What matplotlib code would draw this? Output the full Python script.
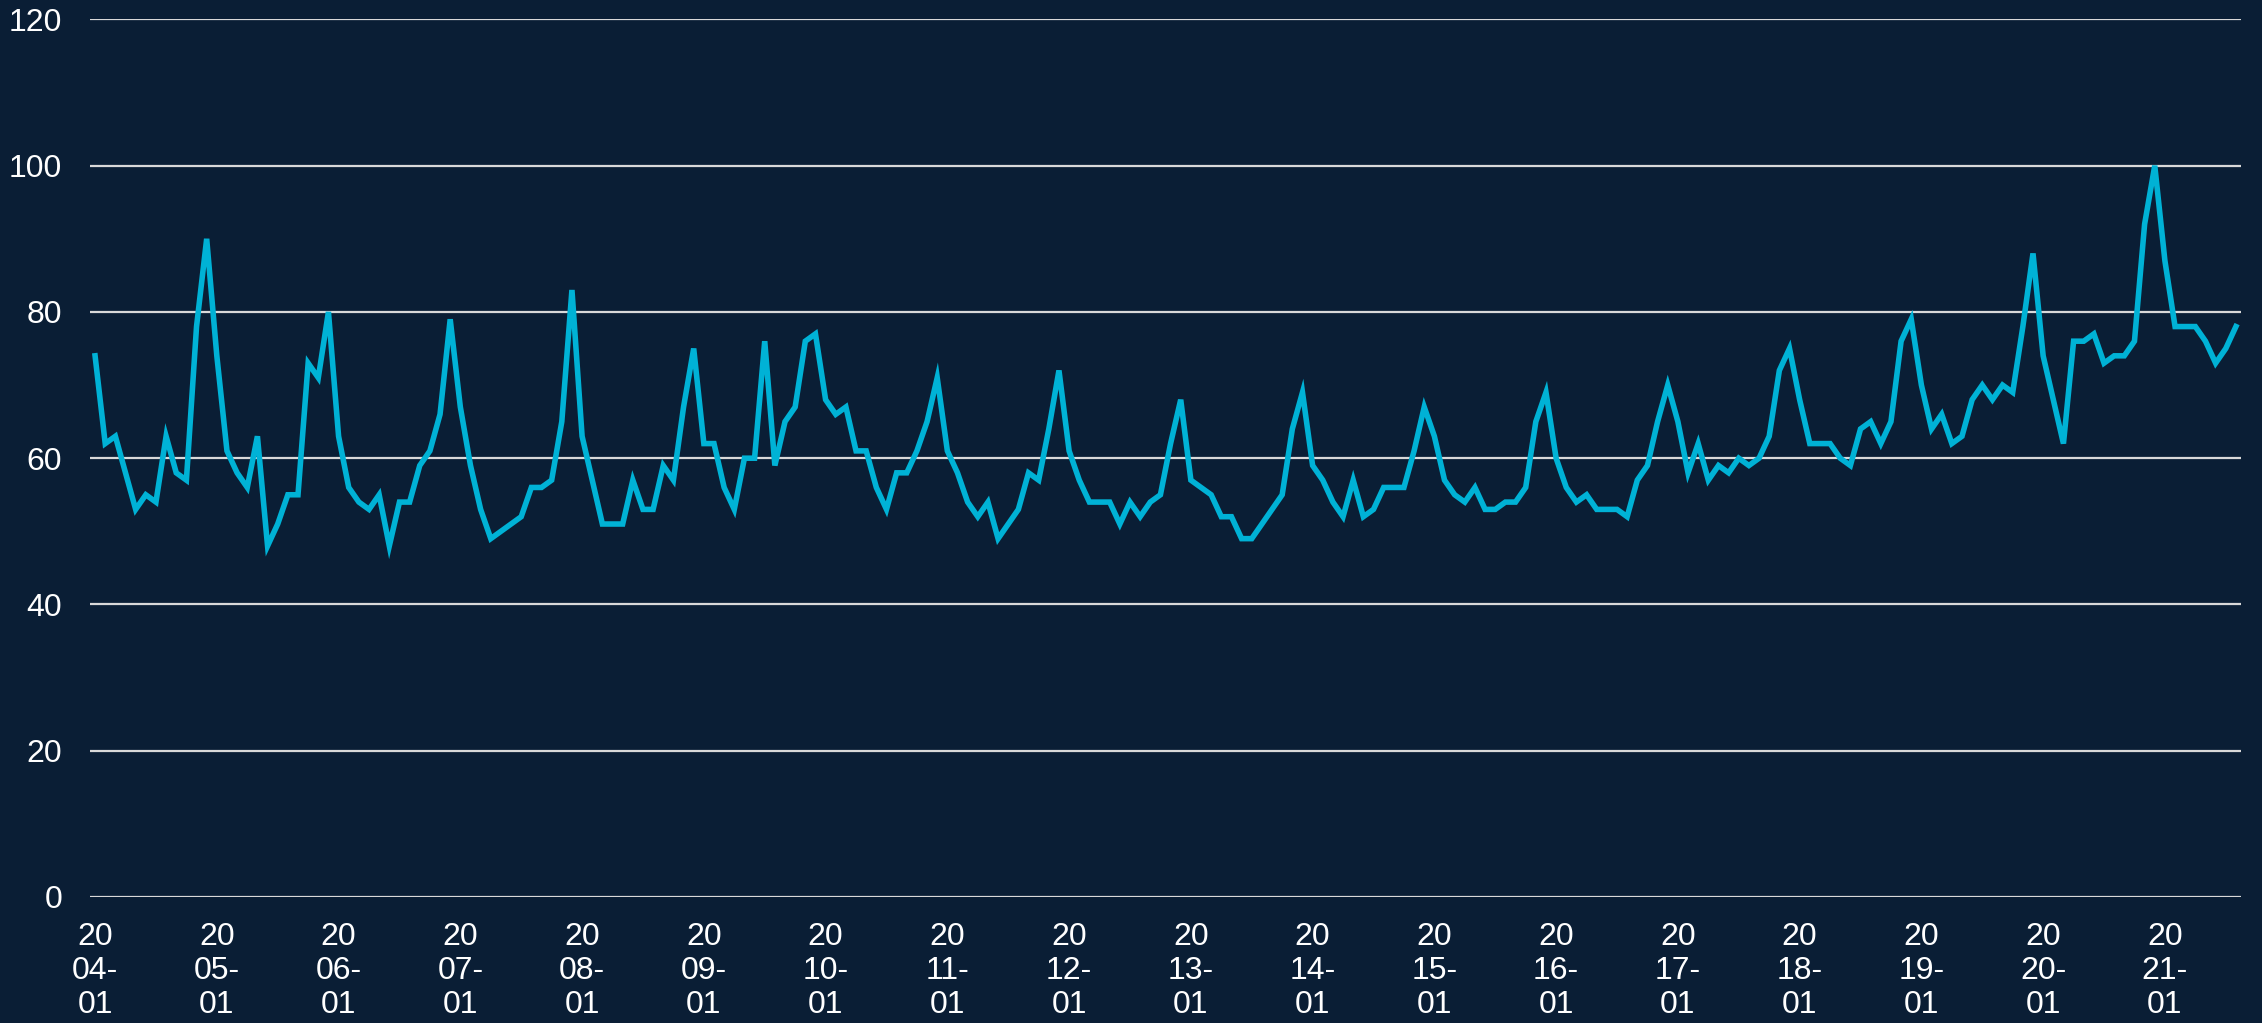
import matplotlib
matplotlib.use("Agg")
import matplotlib.pyplot as plt
import pandas as pd

# monthly index, 2004-01 .. 2021-08
values = [
    74, 62, 63, 58, 53, 55, 54, 63, 58, 57, 78, 90,
    74, 61, 58, 56, 63, 48, 51, 55, 55, 73, 71, 80,
    63, 56, 54, 53, 55, 48, 54, 54, 59, 61, 66, 79,
    67, 59, 53, 49, 50, 51, 52, 56, 56, 57, 65, 83,
    63, 57, 51, 51, 51, 57, 53, 53, 59, 57, 67, 75,
    62, 62, 56, 53, 60, 60, 76, 59, 65, 67, 76, 77,
    68, 66, 67, 61, 61, 56, 53, 58, 58, 61, 65, 71,
    61, 58, 54, 52, 54, 49, 51, 53, 58, 57, 64, 72,
    61, 57, 54, 54, 54, 51, 54, 52, 54, 55, 62, 68,
    57, 56, 55, 52, 52, 49, 49, 51, 53, 55, 64, 69,
    59, 57, 54, 52, 57, 52, 53, 56, 56, 56, 61, 67,
    63, 57, 55, 54, 56, 53, 53, 54, 54, 56, 65, 69,
    60, 56, 54, 55, 53, 53, 53, 52, 57, 59, 65, 70,
    65, 58, 62, 57, 59, 58, 60, 59, 60, 63, 72, 75,
    68, 62, 62, 62, 60, 59, 64, 65, 62, 65, 76, 79,
    70, 64, 66, 62, 63, 68, 70, 68, 70, 69, 78, 88,
    74, 68, 62, 76, 76, 77, 73, 74, 74, 76, 92, 100,
    87, 78, 78, 78, 76, 73, 75, 78,
]
months = pd.period_range("2004-01", periods=len(values), freq="M")
tick_years = list(range(2004, 2022))
y_ticks = [0, 20, 40, 60, 80, 100, 120]

bg = "#0a1e35"
line_color = "#00b2d6"
grid_color = "#d9d9d9"

plt.rcParams["font.family"] = ["Liberation Sans", "DejaVu Sans"]

fig = plt.figure(figsize=(22.62, 10.23), dpi=100, facecolor=bg)
ax = fig.add_axes([90 / 2262, 1 - 897 / 1023, 2151 / 2262, 877.6 / 1023])
ax.set_facecolor(bg)

x = list(range(len(values)))
ax.plot(x, values, color=line_color, linewidth=4.0, solid_joinstyle="miter", zorder=3)

ax.set_ylim(0, 120)
ax.set_xlim(-0.5, len(values) - 0.5)
ax.set_yticks(y_ticks)
ax.set_yticklabels([str(v) for v in y_ticks])
ax.yaxis.grid(True, color=grid_color, linewidth=1.6)
ax.set_axisbelow(True)

tick_pos = [list(months.year).index(yr) for yr in tick_years]
tick_lbl = [f"{str(yr)[:2]}\n{str(yr)[2:]}-\n01" for yr in tick_years]
ax.set_xticks(tick_pos)
ax.set_xticklabels(tick_lbl, linespacing=1.18)

ax.tick_params(axis="both", length=0, colors="white", labelsize=23)
ax.tick_params(axis="y", pad=20)
ax.tick_params(axis="x", pad=18)
for s in ax.spines.values():
    s.set_visible(False)

fig.savefig("out.png", dpi=100, facecolor=bg)
